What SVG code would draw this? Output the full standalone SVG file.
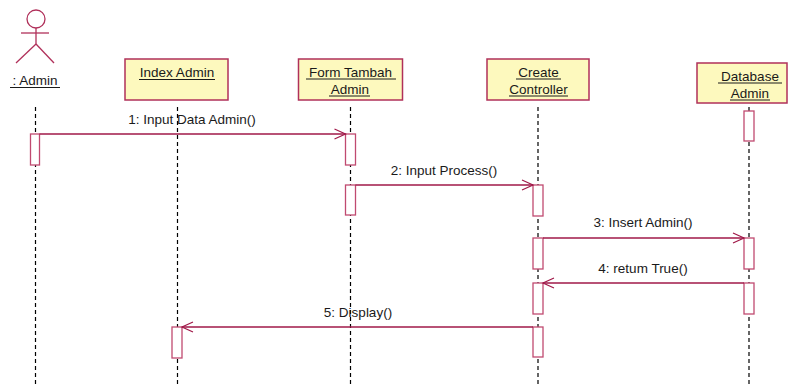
<svg xmlns="http://www.w3.org/2000/svg" width="789" height="387" viewBox="0 0 789 387">
<defs>
<style>
text{font-family:"Liberation Sans",Arial,sans-serif;font-size:13.5px;fill:#1a1a1a}
.obj{fill:#fdf9be;stroke:#b0305a;stroke-width:1.5}
.act{fill:#ffffff;stroke:#c04a70;stroke-width:1.3}
.life{stroke:#000;stroke-width:1.2;stroke-dasharray:4 3;fill:none}
.msg{stroke:#a01848;stroke-width:1.3;fill:none}
.ul{stroke:#1a1a1a;stroke-width:1}
.actor{stroke:#b0305a;stroke-width:1.3;fill:none}
</style>
<marker id="open" markerWidth="14" markerHeight="12" refX="12" refY="6" orient="auto" markerUnits="userSpaceOnUse">
<path d="M1,1 L12,6 L1,11" fill="none" stroke="#a01848" stroke-width="1.2"/>
</marker>
</defs>
<rect width="789" height="387" fill="#ffffff"/>

<g id="lifelines">
<line class="life" x1="35.5" y1="107" x2="35.5" y2="387"/>
<line class="life" x1="177.5" y1="107" x2="177.5" y2="387"/>
<line class="life" x1="350.5" y1="107" x2="350.5" y2="387"/>
<line class="life" x1="538" y1="107" x2="538" y2="387"/>
<line class="life" x1="749" y1="107" x2="749" y2="387"/>
</g>

<g id="actor-admin">
<circle class="actor" cx="36" cy="19" r="9"/>
<line class="actor" x1="21" y1="33" x2="49" y2="33"/>
<line class="actor" x1="36" y1="28" x2="36" y2="44"/>
<line class="actor" x1="36" y1="44" x2="16" y2="63"/>
<line class="actor" x1="36" y1="44" x2="54" y2="63"/>
<text x="35" y="85" text-anchor="middle">: Admin</text>
<line class="ul" x1="10" y1="87.5" x2="60" y2="87.5"/>
</g>

<g id="index-admin">
<rect class="obj" x="125" y="59" width="103" height="41"/>
<text x="177" y="77" text-anchor="middle">Index Admin</text>
<line class="ul" x1="139" y1="79.5" x2="215" y2="79.5"/>
</g>

<g id="form-tambah-admin">
<rect class="obj" x="298.5" y="59" width="104" height="41"/>
<text x="350.5" y="77" text-anchor="middle">Form Tambah </text>
<line class="ul" x1="306" y1="79" x2="396" y2="79"/>
<text x="350" y="94" text-anchor="middle">Admin</text>
<line class="ul" x1="329" y1="96" x2="370" y2="96"/>
</g>

<g id="create-controller">
<rect class="obj" x="487" y="59" width="102" height="41"/>
<text x="538.5" y="77" text-anchor="middle">Create </text>
<line class="ul" x1="516" y1="79" x2="561" y2="79"/>
<text x="538.5" y="94" text-anchor="middle">Controller</text>
<line class="ul" x1="509" y1="96" x2="568" y2="96"/>
</g>

<g id="database-admin">
<rect class="obj" x="697" y="63" width="90" height="40"/>
<text x="750" y="81" text-anchor="middle">Database </text>
<line class="ul" x1="718" y1="83" x2="782" y2="83"/>
<text x="750" y="98" text-anchor="middle">Admin</text>
<line class="ul" x1="730" y1="100" x2="770" y2="100"/>
</g>

<g id="activations">
<rect class="act" x="30.5" y="134" width="9" height="31"/>
<rect class="act" x="345.5" y="134" width="10" height="31"/>
<rect class="act" x="345.5" y="185" width="10" height="30"/>
<rect class="act" x="533" y="185" width="10" height="31"/>
<rect class="act" x="744" y="111" width="10" height="30"/>
<rect class="act" x="533" y="238" width="10" height="31"/>
<rect class="act" x="744" y="238" width="10" height="31"/>
<rect class="act" x="533" y="283" width="10" height="31"/>
<rect class="act" x="744" y="283" width="10" height="31"/>
<rect class="act" x="533" y="327" width="10" height="30"/>
<rect class="act" x="172" y="327" width="10" height="31"/>
</g>

<g id="connectors">
<line class="msg" x1="39.5" y1="134" x2="345.5" y2="134" marker-end="url(#open)"/>
<text x="192" y="124" text-anchor="middle">1: Input Data Admin()</text>
<line class="msg" x1="355.5" y1="185" x2="533" y2="185" marker-end="url(#open)"/>
<text x="444" y="175" text-anchor="middle">2: Input Process()</text>
<line class="msg" x1="543" y1="238" x2="744" y2="238" marker-end="url(#open)"/>
<text x="643" y="227" text-anchor="middle">3: Insert Admin()</text>
<line class="msg" x1="744" y1="283" x2="543" y2="283" marker-end="url(#open)"/>
<text x="643" y="273" text-anchor="middle">4: retum True()</text>
<line class="msg" x1="533" y1="327" x2="182" y2="327" marker-end="url(#open)"/>
<text x="358" y="317" text-anchor="middle">5: Display()</text>
</g>
</svg>
